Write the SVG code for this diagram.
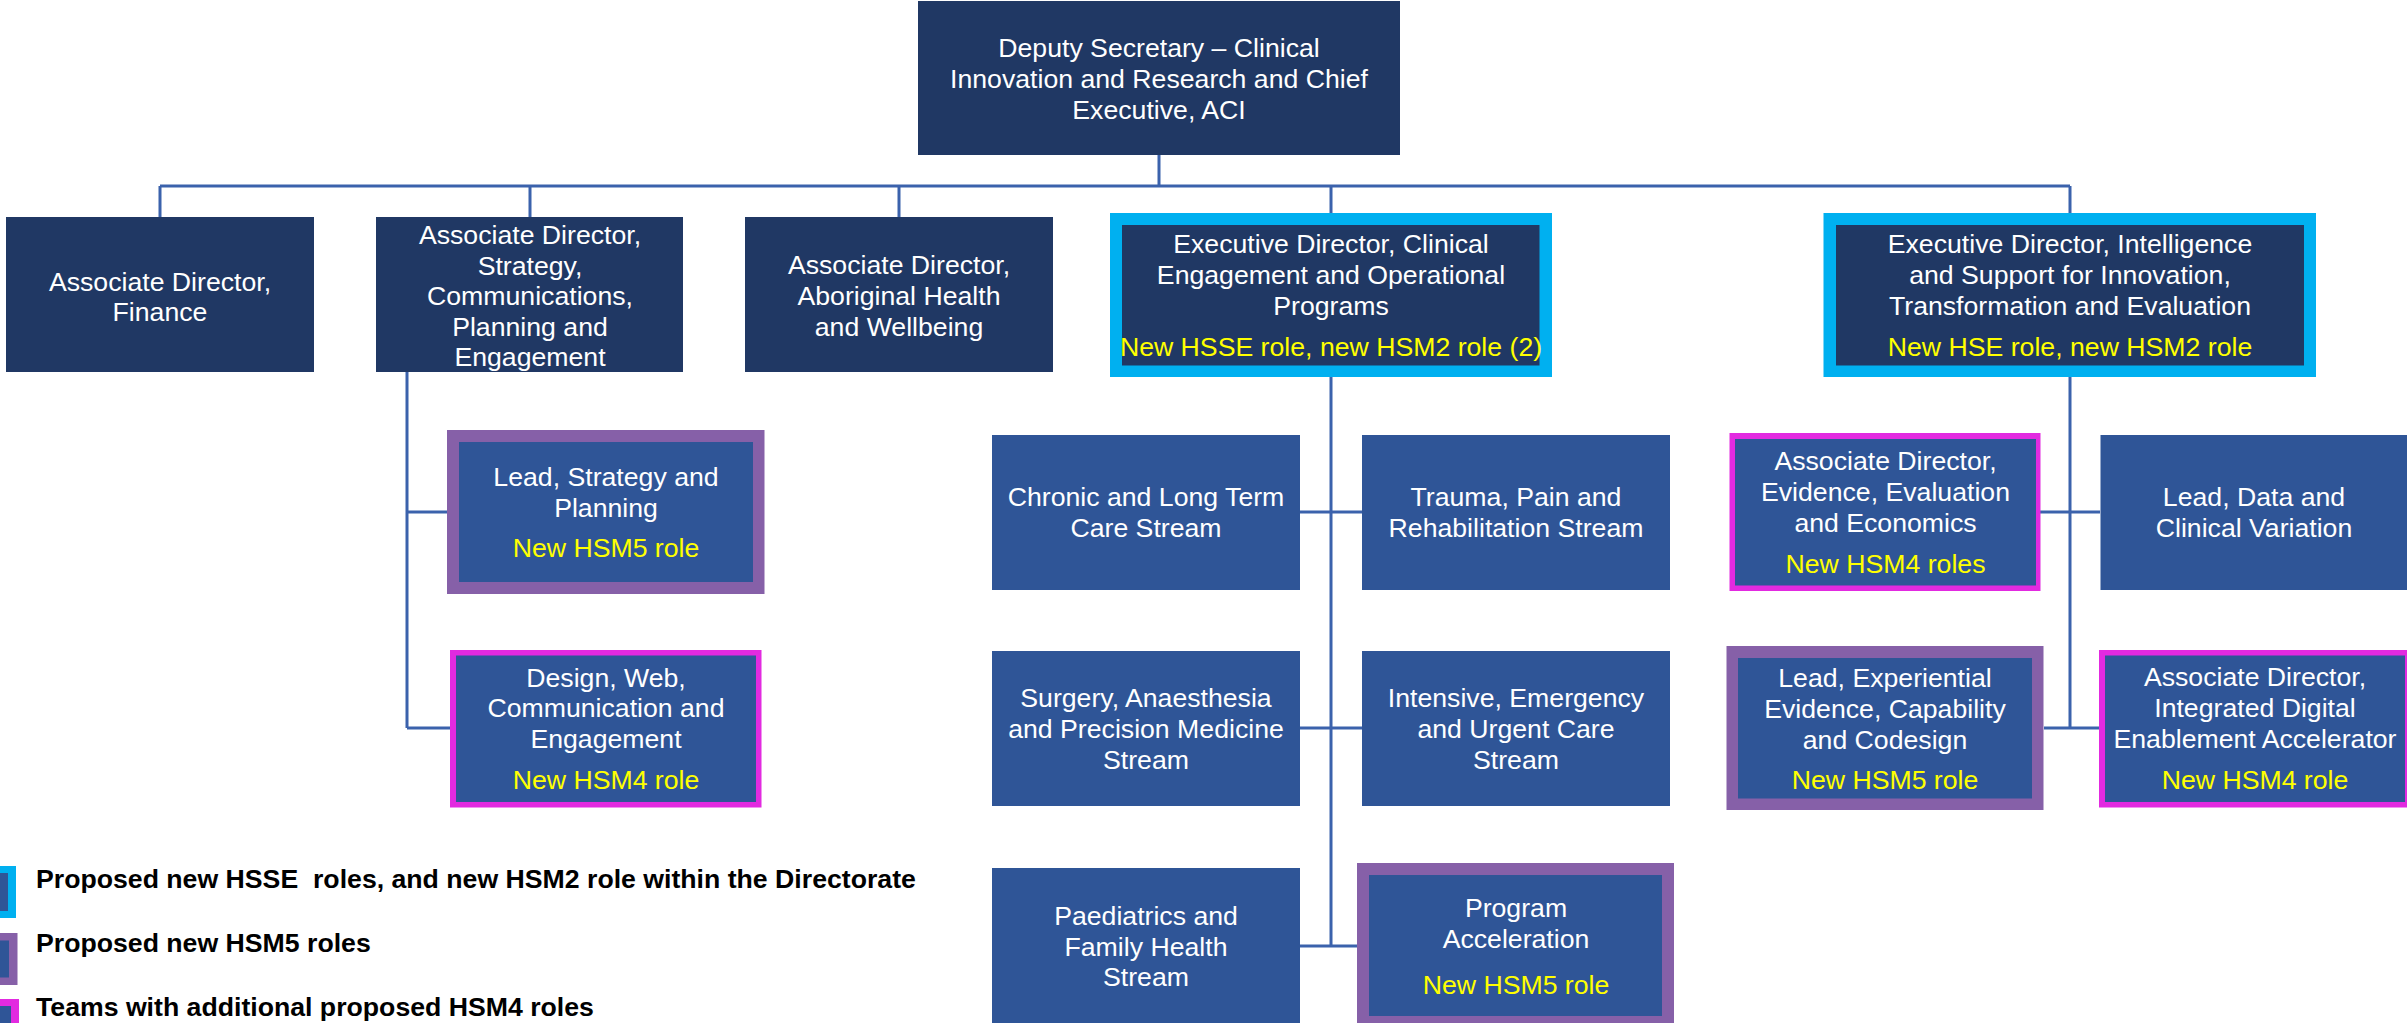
<svg xmlns="http://www.w3.org/2000/svg" width="2407" height="1023" viewBox="0 0 2407 1023">
<style>
.dk{fill:#203864}
.bl{fill:#2F5597}
.cy{fill:#00B0F0}
.pu{fill:#8660A8}
.mg{fill:#E22AE0}
text{font-family:"Liberation Sans",Arial,sans-serif;font-size:26.67px;text-anchor:middle}
.w{fill:#FFFFFF}
.y{fill:#FFFF00}
.lg{fill:#000000;font-weight:bold;text-anchor:start;white-space:pre}
.ln{stroke:#3B62AC;stroke-width:3;fill:none}
</style>
<rect width="2407" height="1023" fill="#FFFFFF"/>
<g id="connectors">
<path class="ln" d="M1159 155V186M160 186H2070M160 186V217M530 186V217M899 186V217M1331 186V213M2070 186V213"/>
<path class="ln" d="M407 372V728M407 512H447M407 728H450"/>
<path class="ln" d="M1331 377V946M1300 512H1362M1300 728H1362M1300 946H1357"/>
<path class="ln" d="M2070 377V728M2040 512H2100M2044 728H2099"/>
</g>
<g id="n-deputy">
<rect class="dk" x="918" y="1" width="482" height="154"/>
<text class="w" x="1159" y="57">Deputy Secretary – Clinical</text>
<text class="w" x="1159" y="88">Innovation and Research and Chief</text>
<text class="w" x="1159" y="119">Executive, ACI</text>
</g>
<g id="n-finance">
<rect class="dk" x="6" y="217" width="308" height="155"/>
<text class="w" x="160" y="291">Associate Director,</text>
<text class="w" x="160" y="321">Finance</text>
</g>
<g id="n-strategy">
<rect class="dk" x="376" y="217" width="307" height="155"/>
<text class="w" x="530" y="244">Associate Director,</text>
<text class="w" x="530" y="275">Strategy,</text>
<text class="w" x="530" y="305">Communications,</text>
<text class="w" x="530" y="336">Planning and</text>
<text class="w" x="530" y="366">Engagement</text>
</g>
<g id="n-aboriginal">
<rect class="dk" x="745" y="217" width="308" height="155"/>
<text class="w" x="899" y="274">Associate Director,</text>
<text class="w" x="899" y="305">Aboriginal Health</text>
<text class="w" x="899" y="336">and Wellbeing</text>
</g>
<g id="n-exec-clinical">
<rect class="cy" x="1110" y="213" width="442" height="164"/>
<rect class="dk" x="1122" y="225" width="417.5" height="140.5"/>
<text class="w" x="1331" y="253">Executive Director, Clinical</text>
<text class="w" x="1331" y="284">Engagement and Operational</text>
<text class="w" x="1331" y="315">Programs</text>
<text class="y" x="1331" y="356">New HSSE role, new HSM2 role (2)</text>
</g>
<g id="n-exec-intel">
<rect class="cy" x="1823.5" y="213" width="492.5" height="164"/>
<rect class="dk" x="1836" y="225" width="468" height="140.5"/>
<text class="w" x="2070" y="253">Executive Director, Intelligence</text>
<text class="w" x="2070" y="284">and Support for Innovation,</text>
<text class="w" x="2070" y="315">Transformation and Evaluation</text>
<text class="y" x="2070" y="356">New HSE role, new HSM2 role</text>
</g>
<g id="n-lead-strategy">
<rect class="pu" x="447" y="430" width="317.5" height="164"/>
<rect class="bl" x="459" y="442" width="294" height="140"/>
<text class="w" x="606" y="486">Lead, Strategy and</text>
<text class="w" x="606" y="517">Planning</text>
<text class="y" x="606" y="557">New HSM5 role</text>
</g>
<g id="n-design-web">
<rect class="mg" x="450" y="650" width="311.5" height="157.5"/>
<rect class="bl" x="456" y="655.5" width="300" height="146.5"/>
<text class="w" x="606" y="687">Design, Web,</text>
<text class="w" x="606" y="717">Communication and</text>
<text class="w" x="606" y="748">Engagement</text>
<text class="y" x="606" y="789">New HSM4 role</text>
</g>
<g id="n-chronic">
<rect class="bl" x="992" y="435" width="308" height="155"/>
<text class="w" x="1146" y="506">Chronic and Long Term</text>
<text class="w" x="1146" y="537">Care Stream</text>
</g>
<g id="n-trauma">
<rect class="bl" x="1362" y="435" width="308" height="155"/>
<text class="w" x="1516" y="506">Trauma, Pain and</text>
<text class="w" x="1516" y="537">Rehabilitation Stream</text>
</g>
<g id="n-surgery">
<rect class="bl" x="992" y="651" width="308" height="155"/>
<text class="w" x="1146" y="707">Surgery, Anaesthesia</text>
<text class="w" x="1146" y="738">and Precision Medicine</text>
<text class="w" x="1146" y="769">Stream</text>
</g>
<g id="n-intensive">
<rect class="bl" x="1362" y="651" width="308" height="155"/>
<text class="w" x="1516" y="707">Intensive, Emergency</text>
<text class="w" x="1516" y="738">and Urgent Care</text>
<text class="w" x="1516" y="769">Stream</text>
</g>
<g id="n-paediatrics">
<rect class="bl" x="992" y="868" width="308" height="160"/>
<text class="w" x="1146" y="925">Paediatrics and</text>
<text class="w" x="1146" y="956">Family Health</text>
<text class="w" x="1146" y="986">Stream</text>
</g>
<g id="n-program-accel">
<rect class="pu" x="1357" y="863" width="317" height="165"/>
<rect class="bl" x="1369" y="875" width="293" height="141"/>
<text class="w" x="1516" y="917">Program</text>
<text class="w" x="1516" y="948">Acceleration</text>
<text class="y" x="1516" y="994">New HSM5 role</text>
</g>
<g id="n-ad-evidence">
<rect class="mg" x="1729.5" y="433" width="311" height="158"/>
<rect class="bl" x="1735" y="439" width="301" height="146.5"/>
<text class="w" x="1885.5" y="470">Associate Director,</text>
<text class="w" x="1885.5" y="501">Evidence, Evaluation</text>
<text class="w" x="1885.5" y="532">and Economics</text>
<text class="y" x="1885.5" y="573">New HSM4 roles</text>
</g>
<g id="n-lead-data">
<rect class="bl" x="2100.5" y="435" width="310" height="155"/>
<text class="w" x="2254" y="506">Lead, Data and</text>
<text class="w" x="2254" y="537">Clinical Variation</text>
</g>
<g id="n-lead-experiential">
<rect class="pu" x="1726.5" y="646" width="317" height="164"/>
<rect class="bl" x="1738" y="658" width="294" height="140.5"/>
<text class="w" x="1885" y="687">Lead, Experiential</text>
<text class="w" x="1885" y="718">Evidence, Capability</text>
<text class="w" x="1885" y="749">and Codesign</text>
<text class="y" x="1885" y="789">New HSM5 role</text>
</g>
<g id="n-ad-digital">
<rect class="mg" x="2099" y="650" width="314" height="157.5"/>
<rect class="bl" x="2105" y="655.5" width="300" height="146.5"/>
<text class="w" x="2255" y="686">Associate Director,</text>
<text class="w" x="2255" y="717">Integrated Digital</text>
<text class="w" x="2255" y="748">Enablement Accelerator</text>
<text class="y" x="2255" y="789">New HSM4 role</text>
</g>
<g id="legend">
<rect class="cy" x="-40" y="866" width="56" height="52"/>
<rect class="bl" x="-40" y="873" width="48" height="38"/>
<text class="lg" x="36" y="888">Proposed new HSSE  roles, and new HSM2 role within the Directorate</text>
<rect class="pu" x="-40" y="933" width="57.5" height="52"/>
<rect class="bl" x="-40" y="940.5" width="49" height="37"/>
<text class="lg" x="36" y="952">Proposed new HSM5 roles</text>
<rect class="mg" x="-40" y="999" width="59" height="40"/>
<rect class="bl" x="-40" y="1006" width="51" height="30"/>
<text class="lg" x="36" y="1016">Teams with additional proposed HSM4 roles</text>
</g>
</svg>
